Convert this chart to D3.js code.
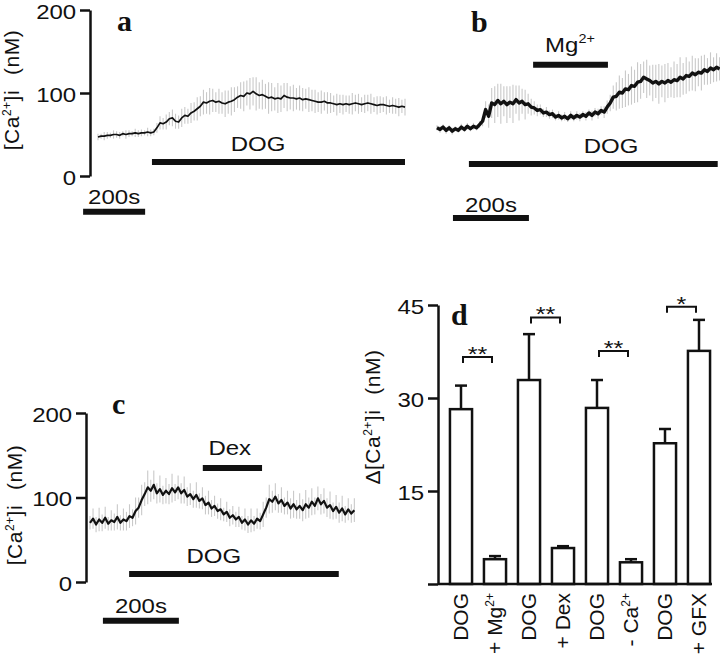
<!DOCTYPE html>
<html>
<head>
<meta charset="utf-8">
<script src="https://cdn.jsdelivr.net/npm/d3@7"></script>
<style>
  body { margin: 0; background: #fff; }
  text { font-family: "Liberation Sans", Arial, sans-serif; fill: #111; }
  .plabel { font-family: "Liberation Serif", "Times New Roman", serif; font-weight: bold; font-size: 30px; }
  .axis path, .axis line { stroke: #111; stroke-width: 2.5; }
  .axis text { font-size: 20px; }
</style>
</head>
<body>
<div id="fig"></div>
<script>
// ---- panel a: mean [Ca2+]i trace (nM), one point every 10 s
var aStep = 10;
var aValues = [47,48,48,49,49,50,50,49,51,50,51,51,52,51,52,52,53,52,
  53,58,64,63,65,69,70,66,65,70,73,72,76,
  78,81,84,89,88,90,91,89,90,88,87,89,90,92,95,97,96,100,99,102,
  99,97,98,96,94,95,93,94,93,97,95,94,94,93,94,92,93,92,91,90,
  89,89,90,88,88,87,86,87,86,87,86,87,88,87,86,87,88,87,86,85,86,86,85,84,85,84,83,84,83];
var aErr = [4,3,5,4,3,5,4,4,3,5,4,3,5,4,4,3,5,4,
  4,6,8,7,9,8,10,9,8,11,10,9,12,
  11,14,12,15,13,16,14,12,15,13,16,14,17,15,13,16,18,15,19,17,
  20,16,18,15,19,17,14,18,16,15,17,14,16,13,15,14,12,15,13,14,
  12,14,11,13,12,10,13,11,12,10,11,13,10,12,9,11,10,12,9,11,10,9,11,8,10,9,11,8,10];

// ---- panel b: one point every 8 s
var bStep = 8;
var bValues = [58,56,59,55,58,54,57,55,59,56,60,57,60,58,62,66,80,72,88,86,
  91,87,90,86,89,87,92,88,90,86,87,83,82,79,80,76,77,74,75,71,
  73,70,72,69,73,70,73,71,74,72,76,73,77,75,79,77,83,88,95,96,
  101,100,105,104,109,108,113,114,119,117,115,112,114,111,114,112,115,113,116,115,
  119,117,121,120,124,122,125,124,128,126,130,128,131,129];
var bErr = [3,4,3,4,3,4,3,3,4,3,4,3,4,3,4,
  6,10,14,18,22,20,24,18,22,19,23,17,21,15,18,12,10,8,
  7,6,5,6,5,5,4,5,4,5,4,5,4,5,5,4,5,4,6,5,6,5,7,8,
  10,14,17,20,18,22,19,23,20,24,21,19,23,18,22,20,24,19,23,21,
  18,22,20,24,19,22,18,21,20,17,21,18,16,19,15,17,14];

// ---- panel c: one point every 8 s
var cStep = 8;
var cValues = [70,75,68,74,70,76,69,73,71,77,70,74,72,78,76,84,88,97,104,112,
  108,115,105,110,103,108,104,111,106,112,105,109,101,104,98,103,96,99,91,94,
  87,90,84,86,80,83,76,79,74,77,70,74,68,73,69,75,72,80,88,98,
  95,101,93,97,90,94,87,92,86,90,85,92,88,95,90,99,92,96,88,91,
  84,89,82,87,80,86,81,85];
var cErr = [8,12,9,14,10,13,8,12,10,15,9,13,11,14,10,16,12,18,14,20,
  13,17,12,16,11,15,12,17,10,14,12,16,11,13,10,15,9,13,11,14,
  10,12,9,13,8,12,10,11,9,12,8,13,10,14,9,12,10,15,12,17,
  13,16,11,15,10,14,12,16,11,15,13,17,12,16,10,14,12,15,11,16,
  10,14,12,15,10,13,11,14];

// drug applications: [label, superscript, start s, end s]
var aDrugs = [["DOG", "", 174, 990]];
var bDrugs = [["DOG", "", 84, 739], ["Mg", "2+", 253, 450]];
var cDrugs = [["DOG", "", 103, 655], ["Dex", "", 297, 453]];

var traceTicks = [0, 100, 200];

// ---- panel d: delta [Ca2+]i (nM), mean + SEM
var dNames = ["DOG", "+ Mg", "DOG", "+ Dex", "DOG", "- Ca", "DOG", "+ GFX"];
var dSup = ["", "2+", "", "", "", "2+", "", ""];
var dValues = [28.2, 4.0, 32.9, 5.8, 28.4, 3.5, 22.7, 37.6];
var dErr = [3.8, 0.5, 7.4, 0.3, 4.5, 0.5, 2.3, 5.0];
var dPairs = [[0, 1, "**", 36.6], [2, 3, "**", 43.0], [4, 5, "**", 37.6], [6, 7, "*", 44.7]];
var dTicks = [0, 15, 30, 45];

// the source figure's lettering is a bit wider than it is tall
var stretch = 1.2;

var svg = d3.select("#fig").append("svg")
    .attr("width", 720)
    .attr("height", 659);

function drawTrace(values, err, step, x, y, lw) {
  var g = svg.append("g");
  g.append("g").selectAll("line")
      .data(values)
    .enter().append("line")
      .attr("x1", function(d, i) { return x(i * step); })
      .attr("x2", function(d, i) { return x(i * step); })
      .attr("y1", function(d, i) { return y(d - err[i]); })
      .attr("y2", function(d, i) { return y(d + err[i]); })
      .attr("stroke", "#c9c9c9")
      .attr("stroke-width", 1.1);
  g.append("path")
      .datum(values)
      .attr("d", d3.line()
        .x(function(d, i) { return x(i * step); })
        .y(function(d) { return y(d); }))
      .attr("fill", "none")
      .attr("stroke", "#111")
      .attr("stroke-width", lw)
      .attr("stroke-linejoin", "round");
}

function hbar(x1, x2, yy, w) {
  svg.append("line")
      .attr("x1", x1).attr("x2", x2)
      .attr("y1", yy).attr("y2", yy)
      .attr("stroke", "#111")
      .attr("stroke-width", w);
}

function label(txt, sup, xx, yy, size) {
  var t = svg.append("text")
      .attr("transform", "translate(" + xx + "," + yy + ") scale(" + stretch + ",1)")
      .attr("text-anchor", "middle")
      .style("font-size", (size || 20) + "px")
      .text(txt);
  if (sup) t.append("tspan").attr("dy", -9).style("font-size", "12px").text(sup);
}

// drug bar + its label; lvl / txtLvl in nM, txtT in s
function drug(d, x, y, lvl, txtT, txtLvl) {
  hbar(x(d[2]), x(d[3]), y(lvl), 6);
  label(d[0], d[1], x(txtT), y(txtLvl));
}

function scaleBar(x, y, t0, lvl, txtLvl) {
  hbar(x(t0), x(t0 + 200), y(lvl), 6);
  label("200s", "", x(t0 + 100), y(txtLvl));
}

function yLabel(xx, yy, delta) {
  var t = svg.append("text")
      .attr("transform", "translate(" + xx + "," + yy + ") rotate(-90)")
      .attr("text-anchor", "middle")
      .style("font-size", "21px")
      .style("letter-spacing", "0.5px");
  t.append("tspan").text((delta ? "\u0394" : "") + "[Ca");
  t.append("tspan").attr("dy", -8).style("font-size", "12px").text("2+");
  t.append("tspan").attr("dy", 8).text("]i");
  t.append("tspan").attr("dx", 15).text("(nM)");
}

function yAxis(y, x0, ticks, fmt) {
  svg.append("g")
      .attr("class", "axis")
      .attr("transform", "translate(" + x0 + ",0)")
      .call(d3.axisLeft(y).tickValues(ticks).tickSize(10).tickSizeOuter(0).tickFormat(fmt))
    .selectAll("text")
      .attr("x", -11.5)
      .attr("dy", "0.42em")
      .attr("transform", "scale(" + stretch + ",1)")
      .style("font-family", "Liberation Sans, Arial, sans-serif");
}

// ---------- panel a
var xa = d3.scaleLinear().domain([0, 990]).range([98, 405]);
var ya = d3.scaleLinear().domain([0, 200]).range([176, 10]);
yAxis(ya, 90, traceTicks, d3.format("d"));
drawTrace(aValues, aErr, aStep, xa, ya, 1.7);
drug(aDrugs[0], xa, ya, 17, 516, 30);
scaleBar(xa, ya, -48, -43, -34);
yLabel(19, 90, false);
svg.append("text").attr("class", "plabel").attr("x", 117).attr("y", 31).text("a");

// ---------- panel b (same amplitude scale as a)
var xb = d3.scaleLinear().domain([0, 745]).range([437, 720]);
drawTrace(bValues, bErr, bStep, xb, ya, 3.4);
drug(bDrugs[0], xb, ya, 14.5, 458, 27.7);
drug(bDrugs[1], xb, ya, 134, 350, 149);
scaleBar(xb, ya, 42, -50.6, -43);
svg.append("text").attr("class", "plabel").attr("x", 471).attr("y", 32).text("b");

// ---------- panel c
var xc = d3.scaleLinear().domain([0, 703]).range([90, 357]);
var yc = d3.scaleLinear().domain([0, 200]).range([582, 413]);
yAxis(yc, 86, traceTicks, d3.format("d"));
drawTrace(cValues, cErr, cStep, xc, yc, 2.2);
drug(cDrugs[0], xc, yc, 9.5, 326, 22.5);
drug(cDrugs[1], xc, yc, 135, 368, 150);
scaleBar(xc, yc, 34, -46, -37);
yLabel(22, 505, false);
svg.append("text").attr("class", "plabel").attr("x", 112).attr("y", 414).text("c");

// ---------- panel d
var xd = d3.scaleBand().domain(d3.range(dValues.length)).range([444, 716])
    .paddingInner(0.35).paddingOuter(0.175);
var yd = d3.scaleLinear().domain([0, 45]).range([584, 305]);
var bw = xd.bandwidth();

var bars = svg.append("g").selectAll("g")
    .data(dValues)
  .enter().append("g");

bars.append("line")
    .attr("x1", function(d, i) { return xd(i) + bw / 2; })
    .attr("x2", function(d, i) { return xd(i) + bw / 2; })
    .attr("y1", function(d) { return yd(d); })
    .attr("y2", function(d, i) { return yd(d + dErr[i]); })
    .attr("stroke", "#111").attr("stroke-width", 2.5);
bars.append("line")
    .attr("x1", function(d, i) { return xd(i) + bw / 2 - 6; })
    .attr("x2", function(d, i) { return xd(i) + bw / 2 + 6; })
    .attr("y1", function(d, i) { return yd(d + dErr[i]); })
    .attr("y2", function(d, i) { return yd(d + dErr[i]); })
    .attr("stroke", "#111").attr("stroke-width", 2.5);
bars.append("rect")
    .attr("x", function(d, i) { return xd(i); })
    .attr("y", function(d) { return yd(d); })
    .attr("width", bw)
    .attr("height", function(d) { return yd(0) - yd(d); })
    .attr("fill", "#fff")
    .attr("stroke", "#111")
    .attr("stroke-width", 2.5);

yAxis(yd, 438, dTicks, function(d) { return d === 0 ? "" : d; });
hbar(438, 712, yd(0), 2.5);

// significance brackets
dPairs.forEach(function(p) {
  var x1 = xd(p[0]) + bw / 2 + 2, x2 = xd(p[1]) + bw / 2 - 3, yy = yd(p[3]);
  svg.append("path")
      .attr("d", "M" + x1 + "," + (yy + 6) + "V" + yy + "H" + x2 + "V" + (yy + 6))
      .attr("fill", "none").attr("stroke", "#111").attr("stroke-width", 2);
  label(p[2], "", (x1 + x2) / 2, yy + 4, 21);
});

// category labels
dNames.forEach(function(n, i) {
  var t = svg.append("text")
      .attr("transform", "translate(" + (xd(i) + bw / 2 + 7) + "," + (yd(0) + 9) + ") rotate(-90)")
      .attr("text-anchor", "end")
      .style("font-size", "21px")
      .text(n);
  if (dSup[i]) t.append("tspan").attr("dy", -8).style("font-size", "12px").text(dSup[i]);
});

yLabel(380, 417, true);
svg.append("text").attr("class", "plabel").attr("x", 451).attr("y", 325).text("d");
</script>
</body>
</html>
